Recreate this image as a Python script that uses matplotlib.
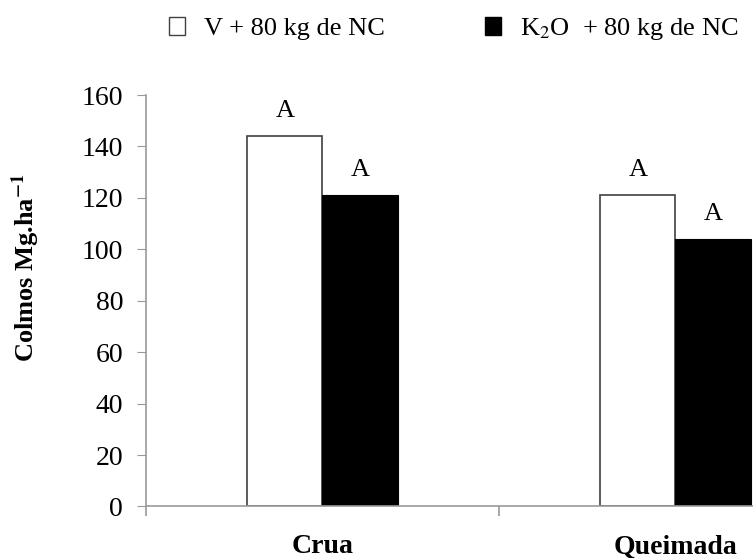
import numpy as np
import matplotlib
matplotlib.use("Agg")
import matplotlib.pyplot as plt
from matplotlib.patches import Patch

plt.rcParams['font.family'] = ['Liberation Serif', 'DejaVu Serif']
plt.rcParams['mathtext.fontset'] = 'stix'

# data
categories = ['Crua', 'Queimada']
series_names = ['V + 80 kg de NC', 'K$_2$O  + 80 kg de NC']
v_values = [144, 121]
k2o_values = [121, 104]
letters_v = ['A', 'A']
letters_k2o = ['A', 'A']
yticks = [0, 20, 40, 60, 80, 100, 120, 140, 160]

fig = plt.figure(figsize=(7.53, 5.58), dpi=100)
ax = fig.add_axes([146/753, 0.0923, 1 - 146/753, 0.7374])

x = np.arange(len(categories)) + 0.5
w = 0.2125
b1 = ax.bar(x - w/2, v_values, w, color='white', edgecolor='#404040', linewidth=1.2)
b2 = ax.bar(x + w/2, k2o_values, w, color='black', edgecolor='black', linewidth=0.8)

for bars, letters in [(b1, letters_v), (b2, letters_k2o)]:
    for rect, lab in zip(bars, letters):
        ax.annotate(lab, (rect.get_x() + rect.get_width()/2, rect.get_height()),
                    xytext=(0, 14), textcoords='offset points',
                    ha='center', va='baseline', fontsize=19)

ax.set_xlim(0, 607/353)
ax.set_ylim(0, 160)
ax.set_yticks(yticks)
ax.tick_params(axis='y', labelsize=20, length=6.5, color='#999999', pad=10)

ax.set_xticks(x)
ax.set_xticklabels(categories, fontsize=20, fontweight='bold')
ax.tick_params(axis='x', which='major', length=0, pad=20)
ax.set_xticks([0, 1], minor=True)
ax.tick_params(axis='x', which='minor', length=7, color='#999999', width=1.2)

for s in ['top', 'right']:
    ax.spines[s].set_visible(False)
for s in ['left', 'bottom']:
    ax.spines[s].set_color('#999999')
    ax.spines[s].set_linewidth(1.2)

ax.set_ylabel(r'Colmos Mg.ha$^{\mathbf{-1}}$', fontsize=19, fontweight='bold')
ax.yaxis.label.set_va('center')
ax.yaxis.set_label_coords(-(146 - 26)/607, 0.58)

handles = [Patch(facecolor='white', edgecolor='#404040', linewidth=1),
           Patch(facecolor='black', edgecolor='black')]
fig.legend(handles, series_names, loc='center left', bbox_to_anchor=(169/753, 1 - 29/558),
           ncol=2, frameon=False, fontsize=19, handlelength=0.62, handleheight=0.68,
           handletextpad=0.7, columnspacing=3.8, borderpad=0, borderaxespad=0)

fig.savefig('out.png', dpi=100)
